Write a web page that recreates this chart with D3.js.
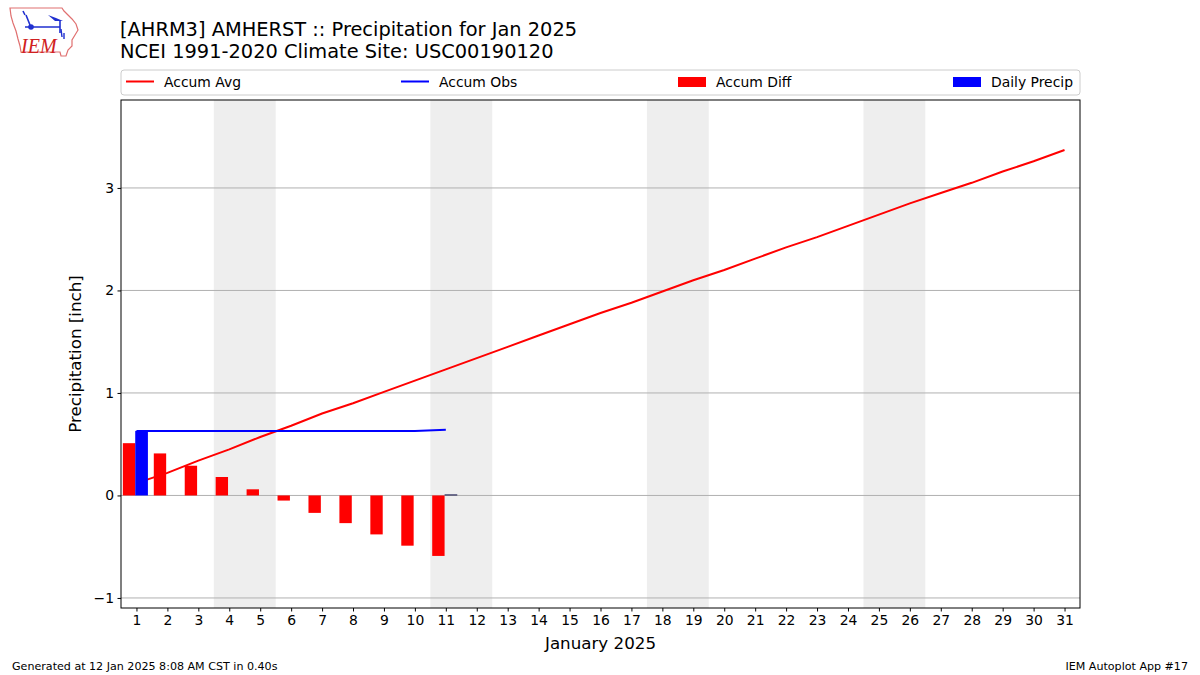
<!DOCTYPE html>
<html>
<head>
<meta charset="utf-8">
<script src="https://cdn.jsdelivr.net/npm/d3@7"></script>
<style>
  html, body { margin: 0; padding: 0; background: #fff; }
  svg { display: block; font-family: "DejaVu Sans", sans-serif; }
</style>
</head>
<body>
<svg id="chart" width="1200" height="675"></svg>
<script>
// ---- Data ----
const days = d3.range(1, 32);
const accumAvg = [0.12, 0.22, 0.34, 0.45, 0.57, 0.68, 0.80, 0.90, 1.01, 1.12,
                  1.23, 1.34, 1.45, 1.56, 1.67, 1.78, 1.88, 1.99, 2.10, 2.20,
                  2.31, 2.42, 2.52, 2.63, 2.74, 2.85, 2.95, 3.05, 3.16, 3.26, 3.37];
const obsDays = d3.range(1, 12);
const accumObs = [0.63, 0.63, 0.63, 0.63, 0.63, 0.63, 0.63, 0.63, 0.63, 0.63, 0.64];
const dailyPrecip = [0.63, 0, 0, 0, 0, 0, 0, 0, 0, 0, 0.01];
const accumDiff = accumObs.map((v, i) => +(v - accumAvg[i]).toFixed(2));
const weekends = [[4, 5], [11, 12], [18, 19], [25, 26]];
const yTicks = [-1, 0, 1, 2, 3];
const legendLabels = ["Accum Avg", "Accum Obs", "Accum Diff", "Daily Precip"];

const svg = d3.select("#chart");
const L = 121, R = 1080, T = 100, B = 608;
const x = d3.scaleLinear().domain([0.5, 31.5]).range([L, R]);
const y = d3.scaleLinear().domain([-1.098, 3.858]).range([B, T]);

// Logo
const logo = svg.append("g");
logo.append("path")
  .attr("d", "M10,8 L62,8 L64,11 L68,15 L72,19 L76,24 L78,30 L75,35 L72,40 L72,46 L68,50 L66,56 L61,56 L60,52 L21,52 L20,46 L18,39 L16,31 L13,23 L11,16 Z")
  .attr("fill", "none").attr("stroke", "#e07070").attr("stroke-width", 1.2);
logo.append("path").attr("d", "M25,27 L60,27 M60,21 L60,33 M30,25 L26,15 M25,15 L23,11")
  .attr("stroke", "#2030d0").attr("stroke-width", 1.6).attr("fill", "none");
logo.append("circle").attr("cx", 31).attr("cy", 27).attr("r", 2.8).attr("fill", "#2030d0");
logo.append("path").attr("d", "M48,15 L56,18 L63,21 L55,21 Z").attr("fill", "#2030d0");
logo.append("path").attr("d", "M61,29 L62,37 M64,33 L64,39").attr("stroke", "#2030d0").attr("stroke-width", 1.4);
logo.append("text").attr("x", 21).attr("y", 53).text("IEM")
  .attr("font-family", "Liberation Serif, serif").attr("font-style", "italic")
  .attr("font-size", 20).attr("fill", "#d02020");

// Titles
svg.append("text").attr("x", 120).attr("y", 36).attr("font-size", 19.4).attr("fill", "#000")
  .text("[AHRM3] AMHERST :: Precipitation for Jan 2025");
svg.append("text").attr("x", 120).attr("y", 58).attr("font-size", 19.4).attr("fill", "#000")
  .text("NCEI 1991-2020 Climate Site: USC00190120");

// Weekend shading
svg.append("g").selectAll("rect").data(weekends).join("rect")
  .attr("x", d => x(d[0] - 0.5)).attr("width", d => x(d[1] + 0.5) - x(d[0] - 0.5))
  .attr("y", T).attr("height", B - T).attr("fill", "#eeeeee");

// Grid
svg.append("g").selectAll("line").data(yTicks).join("line")
  .attr("x1", L).attr("x2", R).attr("y1", d => y(d)).attr("y2", d => y(d))
  .attr("stroke", "#b0b0b0").attr("stroke-width", 1);

// Lines
const line = d3.line().x(d => x(d[0])).y(d => y(d[1]));
svg.append("path").datum(days.map((d, i) => [d, accumAvg[i]]))
  .attr("d", line).attr("fill", "none").attr("stroke", "#ff0000").attr("stroke-width", 2);
svg.append("path").datum(obsDays.map((d, i) => [d, accumObs[i]]))
  .attr("d", line).attr("fill", "none").attr("stroke", "#0000ff").attr("stroke-width", 2);

// Diff bars
svg.append("g").selectAll("rect").data(obsDays.map((d, i) => [d, accumDiff[i]])).join("rect")
  .attr("x", d => x(d[0] - 0.44)).attr("width", d => x(d[0] - 0.04) - x(d[0] - 0.44))
  .attr("y", d => y(Math.max(0, d[1]))).attr("height", d => Math.abs(y(d[1]) - y(0)))
  .attr("fill", "#ff0000");
// Daily precip bars
svg.append("g").selectAll("rect").data(obsDays.map((d, i) => [d, dailyPrecip[i]]).filter(d => d[1] > 0)).join("rect")
  .attr("x", d => x(d[0] - 0.04)).attr("width", d => x(d[0] + 0.37) - x(d[0] - 0.04))
  .attr("y", d => y(d[1])).attr("height", d => Math.max(1, y(0) - y(d[1])))
  .attr("fill", d => d[1] < 0.05 ? "#10104a" : "#0000ff");

// Frame
svg.append("rect").attr("x", L).attr("y", T).attr("width", R - L).attr("height", B - T)
  .attr("fill", "none").attr("stroke", "#000").attr("stroke-width", 1);

// Axes
const xAxis = d3.axisBottom(x).tickValues(days).tickSize(3.5).tickPadding(3.5).tickFormat(d3.format("d"));
const gx = svg.append("g").attr("transform", `translate(0,${B})`).call(xAxis);
const yAxis = d3.axisLeft(y).tickValues(yTicks).tickSize(3.5).tickPadding(3.5).tickFormat(d => d < 0 ? "\u2212" + Math.abs(d) : d);
const gy = svg.append("g").attr("transform", `translate(${L},0)`).call(yAxis);
[gx, gy].forEach(g => {
  g.select(".domain").remove();
  g.selectAll("text").attr("font-family", "DejaVu Sans, sans-serif").attr("font-size", 13.9).attr("fill", "#000");
  g.selectAll("line").attr("stroke", "#000");
});

svg.append("text").attr("x", (L + R) / 2).attr("y", 649).attr("text-anchor", "middle")
  .attr("font-size", 16.7).text("January 2025");
svg.append("text").attr("transform", `translate(81,${(T + B) / 2}) rotate(-90)`).attr("text-anchor", "middle")
  .attr("font-size", 16.7).text("Precipitation [inch]");

// Legend
const lg = svg.append("g");
lg.append("rect").attr("x", 121).attr("y", 70).attr("width", 959).attr("height", 25).attr("rx", 3)
  .attr("fill", "#fff").attr("fill-opacity", 0.8).attr("stroke", "#cccccc");
const legX = [126, 401, 678, 953];
legendLabels.forEach((lab, i) => {
  const g = lg.append("g");
  const col = (i % 2 === 0) ? "#ff0000" : "#0000ff";
  if (i < 2) {
    g.append("line").attr("x1", legX[i]).attr("x2", legX[i] + 28).attr("y1", 81.5).attr("y2", 81.5)
      .attr("stroke", col).attr("stroke-width", 2);
  } else {
    g.append("rect").attr("x", legX[i]).attr("y", 77).attr("width", 28).attr("height", 10).attr("fill", col);
  }
  g.append("text").attr("x", legX[i] + 38).attr("y", 86.5).attr("font-size", 13.9).text(lab);
});

// Footer
svg.append("text").attr("x", 12).attr("y", 670).attr("font-size", 11.1).text("Generated at 12 Jan 2025 8:08 AM CST in 0.40s");
svg.append("text").attr("x", 1188).attr("y", 670).attr("font-size", 11.1).attr("text-anchor", "end").text("IEM Autoplot App #17");
</script>
</body>
</html>
